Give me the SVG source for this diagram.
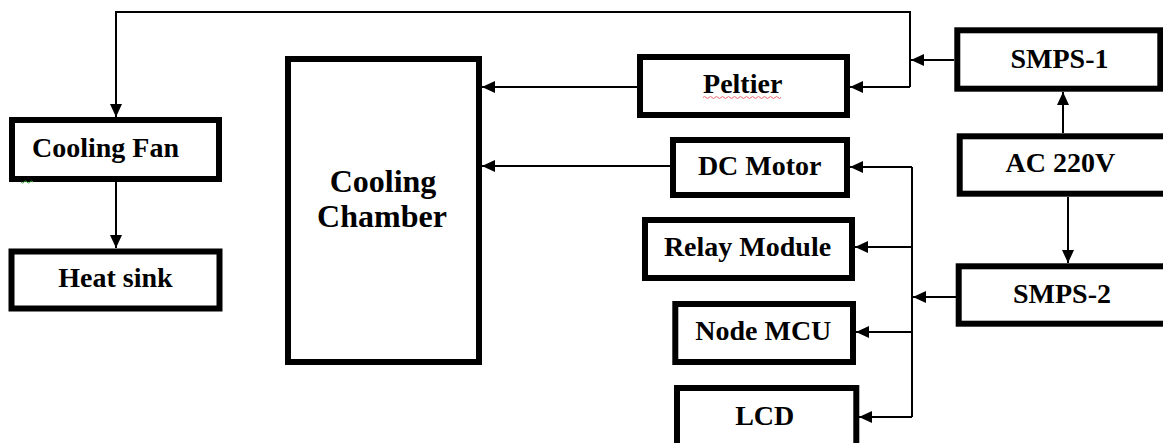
<svg xmlns="http://www.w3.org/2000/svg" width="1163" height="443" viewBox="0 0 1163 443">
<defs>
<style>
.box{fill:#fff;stroke:#000;stroke-width:6}
.lbl{font-family:"Liberation Serif","Times New Roman",serif;font-weight:bold;font-size:28px;fill:#000;text-anchor:middle}
.big{font-size:32px}
.c{fill:none;stroke:#000;stroke-width:2}
.ar{marker-end:url(#ah)}
</style>
<marker id="ah" markerUnits="userSpaceOnUse" markerWidth="13" markerHeight="12" refX="13" refY="6" orient="auto" viewBox="0 0 13 12">
<path d="M0,0 L13,6 L0,12 z" fill="#000"/>
</marker>
</defs>
<rect width="1163" height="443" fill="#fff"/>
<g id="connectors">
<path class="c ar" d="M954,60 H911"/>
<path class="c ar" d="M910,87 V12 H116 V117"/>
<path class="c ar" d="M910,87 H850"/>
<path class="c ar" d="M637,87 H482"/>
<path class="c ar" d="M670,166 H482"/>
<path class="c" d="M912,167 V417"/>
<path class="c ar" d="M912,167 H850"/>
<path class="c ar" d="M912,247 H855"/>
<path class="c ar" d="M912,332 H856"/>
<path class="c ar" d="M912,417 H859"/>
<path class="c ar" d="M956,297 H913"/>
<path class="c ar" d="M1063,133 V92"/>
<path class="c ar" d="M1068,197 V263"/>
<path class="c ar" d="M116,182 V248"/>
</g>
<g id="cooling-fan">
<rect class="box" x="12" y="120" width="207" height="59"/>
<text class="lbl" x="32" y="157" style="text-anchor:start">Cooling Fan</text>
<path d="M21,182 q1.5,2 3,0 t3,0 t3,0 t3,0" fill="none" stroke="#3a3" stroke-width="1"/>
</g>
<g id="heat-sink">
<rect class="box" x="11.5" y="251.5" width="208" height="57"/>
<text class="lbl" x="115.5" y="287">Heat sink</text>
</g>
<g id="cooling-chamber">
<rect class="box" x="288" y="59" width="191" height="303"/>
<text class="lbl big" x="383" y="192">Cooling</text>
<text class="lbl big" x="382" y="227">Chamber</text>
</g>
<g id="peltier">
<rect class="box" x="640" y="57" width="207" height="58"/>
<text class="lbl" x="742.7" y="93">Peltier</text>
<path d="M703,97.5 q1.5,-2 3,0 t3,0 t3,0 t3,0 t3,0 t3,0 t3,0 t3,0 t3,0 t3,0 t3,0 t3,0 t3,0 t3,0 t3,0 t3,0 t3,0 t3,0 t3,0 t3,0 t3,0 t3,0 t3,0 t3,0 t3,0 t3,0" fill="none" stroke="#e66" stroke-width="1"/>
</g>
<g id="dc-motor">
<rect class="box" x="673" y="140" width="174" height="55"/>
<text class="lbl" x="759.7" y="175">DC Motor</text>
</g>
<g id="relay-module">
<rect class="box" x="645" y="220" width="207" height="58"/>
<text class="lbl" x="747.5" y="256">Relay Module</text>
</g>
<g id="node-mcu">
<rect class="box" x="675.3" y="304" width="177.7" height="58"/>
<text class="lbl" x="763.3" y="340">Node MCU</text>
</g>
<g id="lcd">
<rect class="box" x="677" y="388" width="179.3" height="80"/>
<text class="lbl" x="764.7" y="425">LCD</text>
</g>
<g id="smps-1">
<rect class="box" x="957.3" y="30.3" width="203" height="58.4"/>
<text class="lbl" x="1059.5" y="68">SMPS-1</text>
</g>
<g id="ac-220v">
<rect class="box" x="959.7" y="136.3" width="250" height="57.4"/>
<text class="lbl" x="1060.3" y="172">AC 220V</text>
</g>
<g id="smps-2">
<rect class="box" x="958.7" y="266.3" width="250" height="57.4"/>
<text class="lbl" x="1062" y="302.7">SMPS-2</text>
</g>
</svg>
